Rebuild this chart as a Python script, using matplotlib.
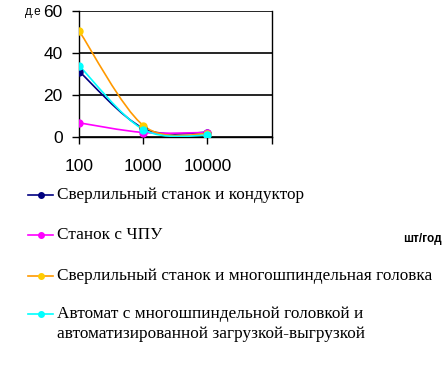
import matplotlib
matplotlib.use("Agg")
import matplotlib.pyplot as plt
from matplotlib.path import Path
from matplotlib.patches import PathPatch
from matplotlib.lines import Line2D
import numpy as np

categories = ["100", "1000", "10000"]
series_names = [
    "Сверлильный станок и кондуктор",
    "Станок с ЧПУ",
    "Сверлильный станок и многошпиндельная головка",
    "Автомат с многошпиндельной головкой и\nавтоматизированной загрузкой-выгрузкой",
]
drill_jig = [31, 4, 2]
cnc = [6.6, 2, 2]
drill_multi = [50.2, 5.3, 1.3]
auto_multi = [33.7, 3.4, 0.6]
y_ticks = [0, 20, 40, 60]

values = [drill_jig, cnc, drill_multi, auto_multi]
line_colors = ["#000080", "#FF00FF", "#FF9900", "#00FFFF"]
marker_colors = ["#000080", "#FF00FF", "#FFCC00", "#00FFFF"]

W, H = 447, 368
fig = plt.figure(figsize=(W / 100, H / 100), dpi=100)
ax = fig.add_axes([79.3 / W, 1 - 136.7 / H, (271.5 - 79.3) / W, (136.7 - 10.7) / H])

x = np.arange(len(categories))


def smooth_path(xs, ys, t=1 / 6):
    verts = [(xs[0], ys[0])]
    codes = [Path.MOVETO]
    n = len(xs)
    for i in range(n - 1):
        p0 = (xs[max(i - 1, 0)], ys[max(i - 1, 0)])
        p1 = (xs[i], ys[i])
        p2 = (xs[i + 1], ys[i + 1])
        p3 = (xs[min(i + 2, n - 1)], ys[min(i + 2, n - 1)])
        c1 = (p1[0] + (p2[0] - p0[0]) * t, p1[1] + (p2[1] - p0[1]) * t)
        c2 = (p2[0] - (p3[0] - p1[0]) * t, p2[1] - (p3[1] - p1[1]) * t)
        verts += [c1, c2, p2]
        codes += [Path.CURVE4] * 3
    return Path(verts, codes)


for vals, lc, mc in zip(values, line_colors, marker_colors):
    ax.add_patch(PathPatch(smooth_path(x, vals), fill=False, edgecolor=lc, lw=1.2, zorder=3))
    ax.plot(x, vals, linestyle="none", marker="o", ms=5, color=mc, zorder=4)

ax.set_xlim(0, 3)
ax.set_ylim(0, 60)
ax.set_xticks([0, 1, 2, 3])
ax.set_xticklabels(categories + [""])
ax.set_yticks(y_ticks)
ax.yaxis.grid(True, color="black", lw=1.2)
ax.set_axisbelow(True)
ax.spines["top"].set_visible(False)
for s in ["left", "right", "bottom"]:
    ax.spines[s].set_color("black")
    ax.spines[s].set_linewidth(1)
ax.tick_params(axis="both", direction="out", length=5, width=1, colors="black")
ax.tick_params(axis="x", pad=11, labelsize=12.5)
ax.tick_params(axis="y", pad=7, labelsize=12.5)
for lab in ax.get_xticklabels() + ax.get_yticklabels():
    lab.set_fontfamily("Liberation Sans")

fig.text(25 / W, 1 - 15.5 / H, "д.е", fontsize=8.5, fontfamily="Liberation Sans", ha="left", va="baseline")

# legend
leg_y = [195, 235, 276, 314]
for name, lc, mc, yy in zip(series_names, line_colors, marker_colors, leg_y):
    fy = 1 - yy / H
    fig.add_artist(Line2D([28 / W, 53 / W], [fy, fy], color=lc, lw=1.2, transform=fig.transFigure))
    fig.add_artist(Line2D([40.5 / W], [fy], color=mc, marker="o", ms=4, linestyle="none", transform=fig.transFigure))
    nlines = name.count("\n") + 1
    ty = 1 - (yy + (nlines - 1) * 10) / H
    fig.text(57 / W, ty, name, fontsize=12.4, fontfamily="Liberation Serif", ha="left", va="center",
             linespacing=1.4)

fig.text(403 / W, 1 - 239 / H, "шт/год", fontsize=8.5, fontweight="bold", fontfamily="Liberation Sans", ha="left", va="center")

fig.savefig("out.png", dpi=100)
